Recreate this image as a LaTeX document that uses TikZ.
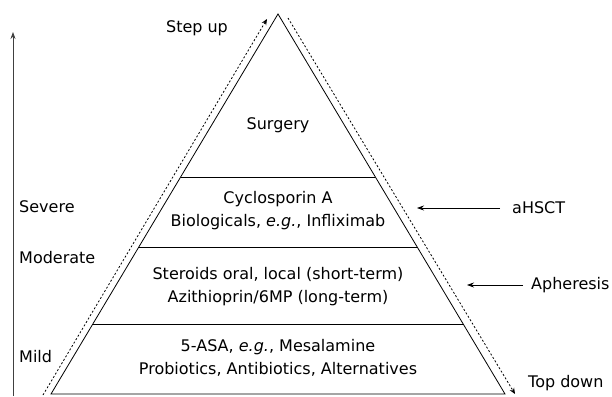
\documentclass[tikz,border=0pt]{standalone}
\usepackage{fontspec}
\setmainfont{DejaVu Sans}
\usetikzlibrary{arrows.meta,positioning,calc}

\begin{document}
\begin{tikzpicture}[x=1pt, y=1pt,
    txt/.style={font=\fontsize{16}{23}\selectfont, inner sep=0pt},
    tier/.style={txt, align=center},
    side/.style={txt, anchor=west},
    edge/.style={line width=0.8pt, black},
    trend/.style={-{Stealth[length=6pt, width=5pt]}, line width=0.8pt, dash pattern=on 2pt off 2pt},
    ptr/.style={-{Stealth[length=7pt, width=5pt]}, line width=0.7pt},
  ]
    \useasboundingbox (0,0) rectangle (612,396);

    % Pyramid
    \coordinate (apex) at (278,382);
    \coordinate (bl) at (51,2);
    \coordinate (br) at (505,2);
    \draw[edge] (bl) -- (apex) -- (br) -- cycle;

    % Tier dividers
    \foreach \t/\n in {0.429/a, 0.613/b, 0.816/c}{
      \draw[edge] ($(apex)!\t!(bl)$) coordinate (l\n) -- ($(apex)!\t!(br)$) coordinate (r\n);
    }

    % Tier contents
    \node[tier] (surgery) at (278,271) {Surgery};
    \node[tier] (bio) at (278,185) {Cyclosporin A\\Biologicals, \textit{e.g.}, Infliximab};
    \node[tier] (ster) at (278,109) {Steroids oral, local (short-term)\\Azithioprin/6MP (long-term)};
    \node[tier] (asa) at (278,38) {5-ASA, \textit{e.g.}, Mesalamine\\Probiotics, Antibiotics, Alternatives};

    % Severity axis
    \coordinate (axbot) at (13,0);
    \coordinate (axtop) at (13,364);
    \draw[-{Stealth[length=7pt, width=5pt]}, line width=0.8pt, black!75] (axbot) -- (axtop);
    \node[side] (severe) at (19,189) {Severe};
    \node[side] (moderate) at (19,138) {Moderate};
    \node[side] (mild) at (19,39) {Mild};

    % Step up / top down
    \coordinate (upstart) at (43,1);
    \coordinate (upend) at (267,377);
    \coordinate (downstart) at (288,378);
    \coordinate (downend) at (515,2);
    \draw[trend] (upstart) -- (upend);
    \draw[trend] (downstart) -- (downend);
    \node[txt] (stepup) at (197,368) {Step up};
    \node[side] (topdown) at (528,13) {Top down};

    % Extra options
    \node[side] (ahsct) at (512,188) {aHSCT};
    \node[side] (apher) at (531,111) {Apheresis};
    \coordinate (ahsctend) at (417,188);
    \coordinate (apherend) at (467,111);
    \draw[ptr] ($(ahsct.west)+(-12,0)$) -- (ahsctend);
    \draw[ptr] ($(apher.west)+(-8,0)$) -- (apherend);

\end{tikzpicture}
\end{document}
